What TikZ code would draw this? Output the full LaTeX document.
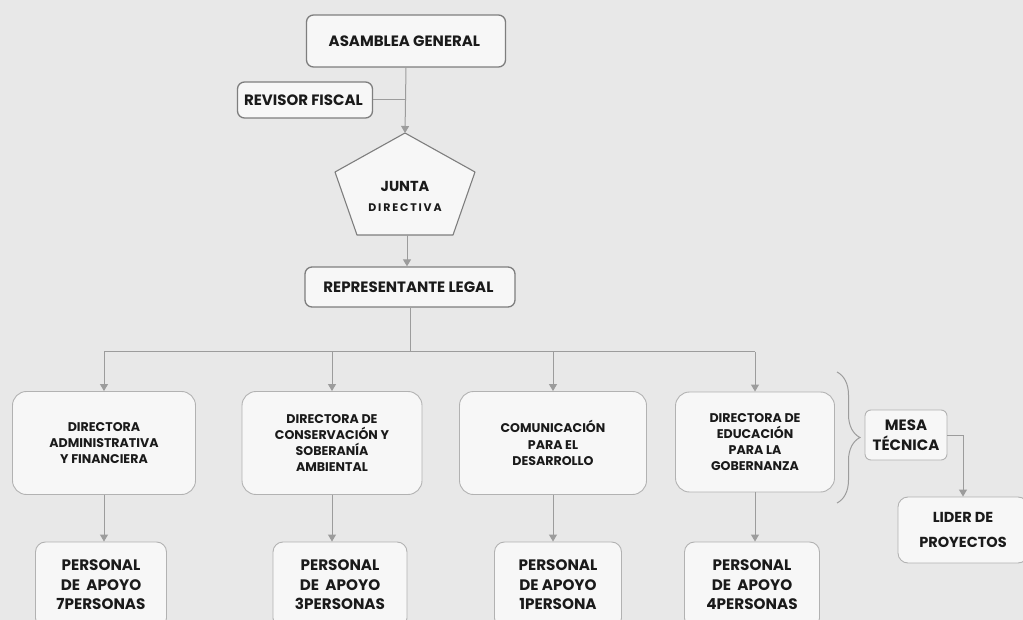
\documentclass[tikz,border=0pt]{standalone}
\usepackage{fontspec}
\setmainfont{Poppins}
\usetikzlibrary{shapes,arrows.meta,decorations.pathreplacing}
\definecolor{papel}{HTML}{E8E8E8}
\definecolor{linea}{HTML}{9C9C9C}
\definecolor{borde}{HTML}{B2B2B2}
\definecolor{bordeosc}{HTML}{7E7E7E}
\definecolor{letra}{HTML}{1A1A1A}

\begin{document}
\begin{tikzpicture}[x=1pt, y=-1pt,
		orgbox/.style={draw=borde, line width=0.9pt, fill=gray!6, rounded corners=14pt, align=center,
			inner sep=0pt, text=letra, font=\bfseries\fontsize{12.6}{16.2}\selectfont},
		topbox/.style={orgbox, draw=bordeosc, line width=1.3pt, rounded corners=7pt,
			font=\bfseries\fontsize{15}{18}\selectfont},
		staffbox/.style={orgbox, rounded corners=10pt, font=\bfseries\fontsize{15.2}{19.5}\selectfont},
		conector/.style={draw=linea, line width=1pt},
		>={Triangle[width=8pt,length=7pt]}]
		\fill[papel] (0,0) rectangle (1023,620);
		\useasboundingbox (0,0) rectangle (1023,620);
		\node[topbox, minimum width=199pt, minimum height=52pt] (Asamblea) at (406,41) {
			ASAMBLEA GENERAL
		};
		\node[topbox, minimum width=135pt, minimum height=36pt] (Revisor) at (305,100) {
			REVISOR FISCAL
		};
		% pentagono de la junta
		\coordinate (JuntaTop) at (405,133);
		\coordinate (JuntaBot) at (407,235);
		\filldraw[fill=gray!6, draw=bordeosc, line width=1.1pt, line join=round]
			(405,133) -- (475,172) -- (453,235) -- (357,235) -- (335,172) -- cycle;
		\node[align=center, text=letra, font=\bfseries\fontsize{14.5}{20}\selectfont] (Junta) at (405,196) {
			JUNTA\\{\fontsize{11}{12}\selectfont D\,I\,R\,E\,C\,T\,I\,V\,A}
		};
		\node[topbox, minimum width=210pt, minimum height=40pt] (Representante) at (410,287) {
			REPRESENTANTE LEGAL
		};
		\coordinate (Bus) at (0,352);
		\node[orgbox, minimum width=183pt, minimum height=103pt] (DirAdmin) at (104,443) {
			DIRECTORA\\ADMINISTRATIVA\\Y FINANCIERA
		};
		\node[orgbox, minimum width=180pt, minimum height=103pt] (DirConserv) at (332,443) {
			DIRECTORA DE\\CONSERVACIÓN Y\\SOBERANÍA\\AMBIENTAL
		};
		\node[orgbox, minimum width=187pt, minimum height=103pt] (Comunicacion) at (553,443) {
			COMUNICACIÓN\\PARA EL\\DESARROLLO
		};
		\node[orgbox, minimum width=159pt, minimum height=100pt] (DirEducacion) at (755,442) {
			DIRECTORA DE\\EDUCACIÓN\\PARA LA\\GOBERNANZA
		};
		\node[staffbox, minimum width=131pt, minimum height=86pt] (ApoyoAdmin) at (101,585) {
			PERSONAL\\DE\ \ APOYO\\7PERSONAS
		};
		\node[staffbox, minimum width=134pt, minimum height=86pt] (ApoyoConserv) at (340,585) {
			PERSONAL\\DE\ \ APOYO\\3PERSONAS
		};
		\node[staffbox, minimum width=127pt, minimum height=86pt] (ApoyoComunic) at (558,585) {
			PERSONAL\\DE APOYO\\1PERSONA
		};
		\node[staffbox, minimum width=135pt, minimum height=86pt] (ApoyoEduc) at (752,585) {
			PERSONAL\\DE\ \ APOYO\\4PERSONAS
		};
		\node[orgbox, rounded corners=6pt, minimum width=82pt, minimum height=50pt,
			font=\bfseries\fontsize{15}{20}\selectfont] (Mesa) at (906,435) {
			MESA\\TÉCNICA
		};
		\node[orgbox, rounded corners=10pt, minimum width=130pt, minimum height=66pt,
			font=\bfseries\fontsize{14.5}{25}\selectfont] (Lider) at (963,530) {
			LIDER DE\\PROYECTOS
		};
		% llaves y lineas
		\draw[conector, decorate, decoration={brace, amplitude=23pt}] (837,372) -- (837,503);
		\draw[conector, ->] (Asamblea.south) -- (JuntaTop);
		\draw[conector] (Revisor.east) -- (Revisor.east -| Asamblea.south);
		\draw[conector, ->] (JuntaBot) -- (JuntaBot |- Representante.north);
		\draw[conector] (Representante.south) -- (Representante.south |- Bus);
		\draw[conector] (DirAdmin.north |- Bus) -- (DirEducacion.north |- Bus);
		\foreach \dir/\apoyo in {DirAdmin/ApoyoAdmin, DirConserv/ApoyoConserv,
			Comunicacion/ApoyoComunic, DirEducacion/ApoyoEduc} {
			\draw[conector, ->] (\dir.north |- Bus) -- (\dir.north);
			\draw[conector, ->] (\dir.south) -- (\dir.south |- \apoyo.north);
		}
		\draw[conector, ->] (Mesa.east) -| (Lider.north);
\end{tikzpicture}
\end{document}
